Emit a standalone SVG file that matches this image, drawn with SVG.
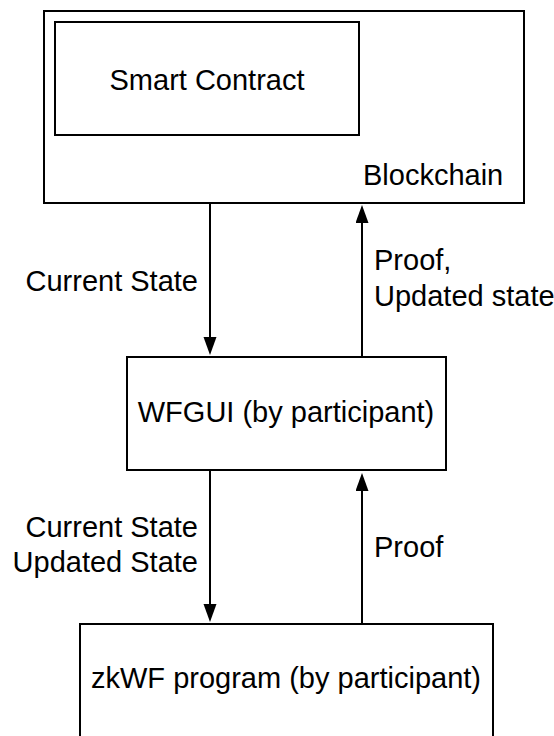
<svg xmlns="http://www.w3.org/2000/svg" width="554" height="736" viewBox="0 0 554 736">
<defs>
<style>
.box{fill:#fff;stroke:#000;stroke-width:2}
.t{font-family:"Liberation Sans",Arial,sans-serif;font-size:29px;fill:#000}
.m{text-anchor:middle}
.e{text-anchor:end}
.c{stroke:#000;stroke-width:2;fill:none;marker-end:url(#ah)}
</style>
<marker id="ah" markerUnits="userSpaceOnUse" markerWidth="20" markerHeight="14" refX="14" refY="6.5" orient="auto">
<path d="M0,0 L18,6.5 L0,13 z" fill="#000"/>
</marker>
</defs>
<rect width="554" height="736" fill="#fff"/>
<g id="blockchain">
<rect class="box" x="44" y="11" width="480" height="192"/>
<text class="t" x="363" y="185">Blockchain</text>
</g>
<g id="smart-contract">
<rect class="box" x="55" y="22" width="304" height="113"/>
<text class="t m" x="207" y="90">Smart Contract</text>
</g>
<g id="wfgui">
<rect class="box" x="127" y="357" width="319" height="113"/>
<text class="t m" x="286" y="422">WFGUI (by participant)</text>
</g>
<g id="zkwf">
<rect class="box" x="80" y="624" width="413" height="130"/>
<text class="t m" x="286" y="688">zkWF program (by participant)</text>
</g>
<g id="connectors">
<line class="c" x1="210" y1="203" x2="210" y2="351"/>
<line class="c" x1="362" y1="357" x2="362" y2="209"/>
<line class="c" x1="210" y1="470" x2="210" y2="618"/>
<line class="c" x1="362" y1="624" x2="362" y2="477"/>
<text class="t e" x="198" y="291">Current State</text>
<text class="t" x="374" y="270">Proof,</text>
<text class="t" x="374" y="306">Updated state</text>
<text class="t e" x="198" y="537">Current State</text>
<text class="t e" x="198" y="572">Updated State</text>
<text class="t" x="374" y="557">Proof</text>
</g>
</svg>
